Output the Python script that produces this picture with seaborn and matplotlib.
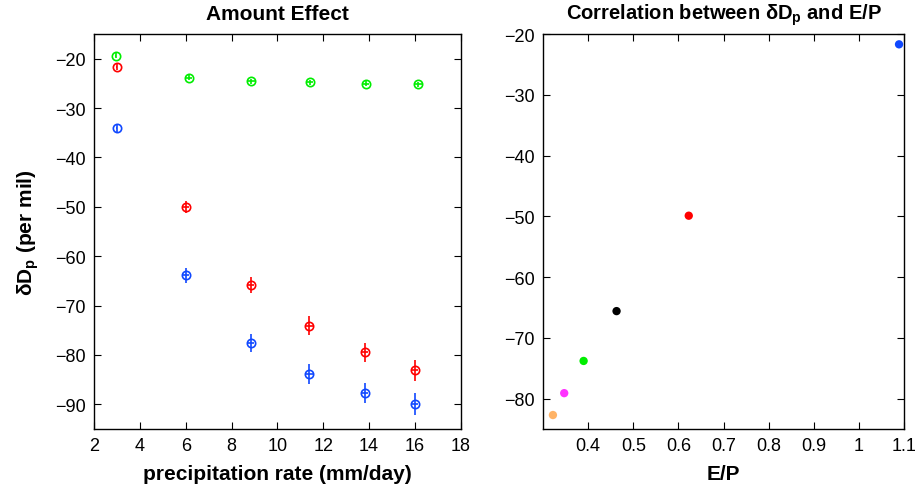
import numpy as np
import pandas as pd
import matplotlib
matplotlib.use("Agg")
import matplotlib.pyplot as plt
import seaborn as sns

# ---- data ----
precip_green = [2.93, 6.12, 8.86, 11.40, 13.85, 16.14]
dD_green = [-19.4, -23.9, -24.6, -24.8, -25.1, -25.2]
err_green = [0.5, 0.5, 0.5, 0.5, 0.5, 0.5]

precip_red = [2.98, 5.99, 8.83, 11.38, 13.82, 16.00]
dD_red = [-21.6, -50.0, -65.9, -74.1, -79.5, -83.1]
err_red = [0.6, 1.2, 1.6, 1.9, 2.0, 2.1]

precip_blue = [2.98, 5.99, 8.83, 11.38, 13.82, 16.00]
dD_blue = [-34.1, -63.9, -77.6, -83.8, -87.7, -90.0]
err_blue = [0.9, 1.6, 1.9, 2.0, 2.1, 2.2]

xerr_all = [0.03, 0.15, 0.15, 0.15, 0.15, 0.15]

ep_ratio = [1.089, 0.623, 0.463, 0.390, 0.347, 0.322]
dD_ep = [-21.7, -49.9, -65.6, -73.8, -79.1, -82.7]
ep_group = ["a", "b", "c", "d", "e", "f"]
ep_colors = ["#1048ff", "#ff0000", "#000000", "#00ee00", "#ff33ff", "#ffb366"]

sns.set_theme(style="white")
plt.rcParams["font.family"] = ["Liberation Sans", "DejaVu Sans"]
plt.rcParams["mathtext.fontset"] = "custom"
plt.rcParams["mathtext.rm"] = "Liberation Sans"
plt.rcParams["mathtext.bf"] = "Liberation Sans:bold"
plt.rcParams["xtick.direction"] = "in"
plt.rcParams["ytick.direction"] = "in"
plt.rcParams["text.color"] = "black"
plt.rcParams["axes.labelcolor"] = "black"
plt.rcParams["axes.titlecolor"] = "black"

fig = plt.figure(figsize=(9.16, 4.89), dpi=100)
W, H = 916, 489
ax1 = fig.add_axes([94.3 / W, 59 / H, 366.4 / W, 395 / H])
ax2 = fig.add_axes([543 / W, 59 / H, 361 / W, 395 / H])

# ---- left panel: amount effect ----
series = [
    (precip_green, dD_green, err_green, "#00ee00"),
    (precip_red, dD_red, err_red, "#ff0000"),
    (precip_blue, dD_blue, err_blue, "#1048ff"),
]
for px, py, pe, col in series:
    ax1.errorbar(px, py, yerr=pe, xerr=xerr_all, fmt="o", ms=6, mfc="none",
                 mec=col, ecolor=col, mew=1.2, elinewidth=1.2, capsize=0)

ax1.set_xlim(2, 18)
ax1.set_ylim(-95, -15)
ax1.set_xticks(np.arange(2, 19, 2))
ax1.set_yticks(np.arange(-90, -19, 10))
ax1.set_title("Amount Effect", fontweight="bold", fontsize=15, pad=11)
ax1.set_xlabel("precipitation rate (mm/day)", fontweight="bold", fontsize=15, labelpad=7)
ax1.set_ylabel(r"δD$_\mathbf{p}$ (per mil)", fontweight="bold", fontsize=15, labelpad=10)

# ---- right panel: correlation with E/P ----
df_ep = pd.DataFrame({"EP": ep_ratio, "dD": dD_ep, "grp": ep_group})
sns.scatterplot(data=df_ep, x="EP", y="dD", hue="grp", palette=ep_colors,
                s=36, edgecolor="none", legend=False, ax=ax2)
ax2.set_xlim(0.3, 1.1)
ax2.set_ylim(-85, -20)
ax2.set_xticks([0.4, 0.5, 0.6, 0.7, 0.8, 0.9, 1.0, 1.1])
ax2.set_xticklabels(["0.4", "0.5", "0.6", "0.7", "0.8", "0.9", "1", "1.1"])
ax2.set_yticks(np.arange(-80, -19, 10))
ax2.set_title(r"Correlation between δD$_\mathbf{p}$ and E/P", fontweight="bold",
              fontsize=14.5, pad=11)
ax2.set_xlabel("E/P", fontweight="bold", fontsize=15, labelpad=7)
ax2.set_ylabel("")

for ax in (ax1, ax2):
    ax.tick_params(axis="both", which="both", direction="in", top=True, right=True,
                   bottom=True, left=True, length=5, width=0.8,
                   labelsize=13, colors="black", pad=6)
    for sp in ax.spines.values():
        sp.set_color("black")
        sp.set_linewidth(1.0)

fig.savefig("out.png", dpi=100)
